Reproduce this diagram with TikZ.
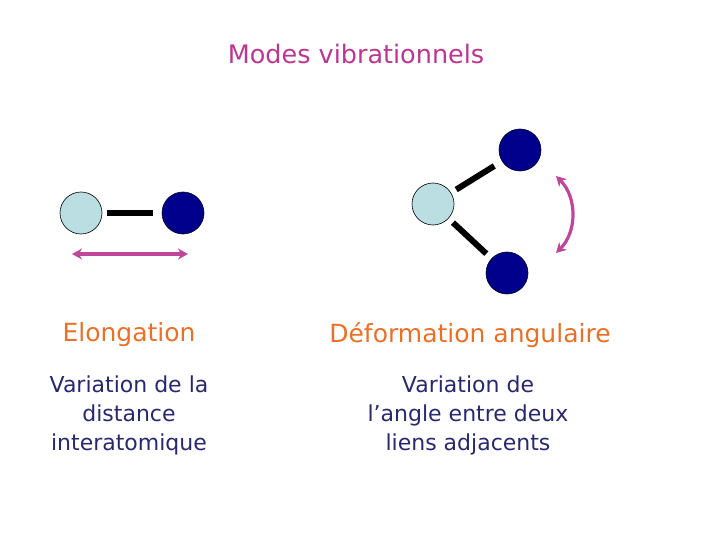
\documentclass[tikz,border=0pt]{standalone}
\usepackage{fontspec}
\setmainfont{DejaVu Sans}
\usepackage{tikz}
\usetikzlibrary{arrows,arrows.meta,shapes,positioning,calc}
\usepackage{xcolor}
\definecolor{vibmagenta}{RGB}{185,55,145}
\definecolor{vibarrow}{RGB}{190,70,155}
\definecolor{viborange}{RGB}{232,112,40}
\definecolor{vibnavy}{RGB}{40,40,110}
\definecolor{atomlight}{RGB}{186,222,226}
\definecolor{atomdark}{RGB}{0,0,140}
\tikzstyle{lightatom} = [circle, minimum size=42pt, inner sep=0pt, draw=black, line width=0.6pt, fill=atomlight]
\tikzstyle{darkatom} = [circle, minimum size=42pt, inner sep=0pt, draw=black!80!atomdark, line width=0.6pt, fill=atomdark]
\tikzstyle{bond} = [line width=6pt, color=black]
\tikzstyle{motion} = [line width=3.2pt, color=vibarrow, {Stealth[length=10pt,width=11pt]}-{Stealth[length=10pt,width=11pt]}]
\tikzstyle{modename} = [font=\fontsize{25}{30}\selectfont, color=viborange, align=center]
\tikzstyle{modetext} = [font=\fontsize{22}{29}\selectfont, color=vibnavy, align=center]

\begin{document}
\begin{tikzpicture}[x=1pt, y=-1pt]
    \useasboundingbox (0,0) rectangle (720,540);

    % Title
    \node[font=\fontsize{25.5}{30}\selectfont, color=vibmagenta] (title) at (356,54) {Modes vibrationnels};

    % Nodes
    \node[lightatom] (ea) at (81,213) {};
    \node[darkatom] (eb) at (183,213) {};
    \node[lightatom] (da) at (433,204) {};
    \node[darkatom] (db) at (520,150) {};
    \node[darkatom] (dc) at (507,273) {};

    % Bonds
    \draw[bond, shorten <=5pt, shorten >=9pt] (ea) -- (eb);
    \draw[bond, shorten <=6pt, shorten >=9pt] (da) -- (db);
    \draw[bond, shorten <=6pt, shorten >=7pt] (da) -- (dc);

    % Arrows
    \coordinate (sl) at (72,254);
    \coordinate (sr) at (188,254);
    \draw[motion] (sl) -- (sr);
    \coordinate (bt) at (556,176);
    \coordinate (bb) at (556,253);
    \draw[motion] (bt) to[bend left=45] (bb);

    % Labels below
    \node[modename] (elong) at (129,335) {Elongation};
    \node[modename] (deform) at (470,335) {Déformation angulaire};
    \node[modetext] (elongtxt) at (129,415) {Variation de la\\distance\\interatomique};
    \node[modetext] (deformtxt) at (468,415) {Variation de\\l’angle entre deux\\liens adjacents};
\end{tikzpicture}
\end{document}
